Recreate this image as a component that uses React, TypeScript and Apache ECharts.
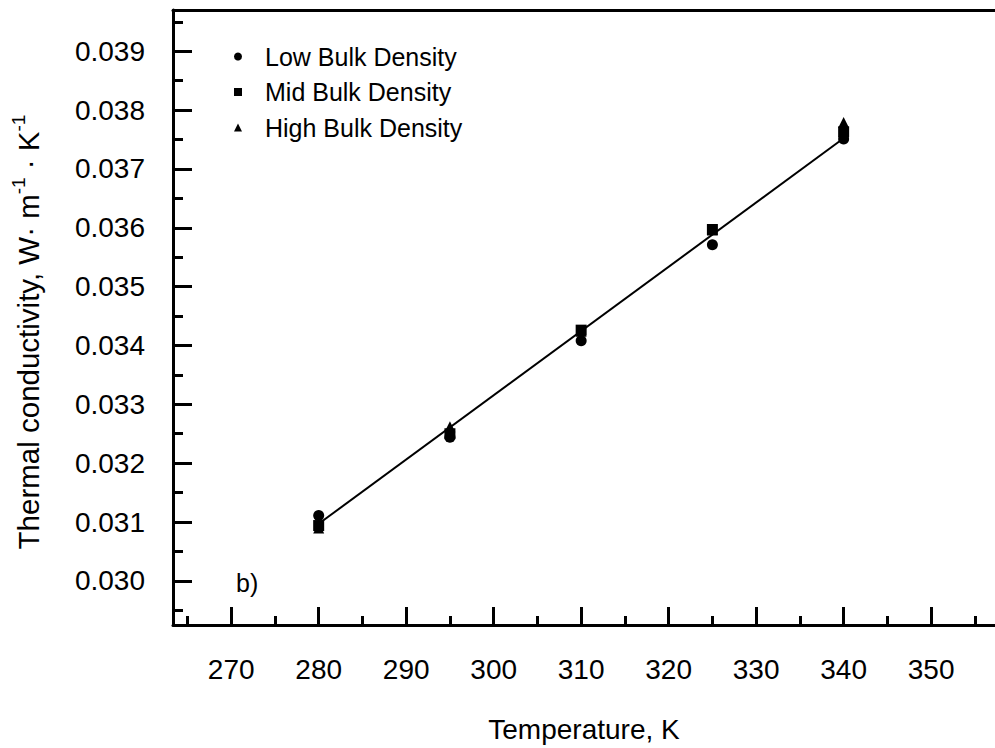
import React, { useEffect, useRef } from "react";
import * as echarts from "echarts";

const temperatures = [280, 295, 310, 325, 340];
const lowDensity = [0.03111, 0.03244, 0.03408, 0.03571, 0.03751];
const midDensity = [0.03094, 0.0325, 0.03426, 0.03597, 0.03763];
const highDensity = [0.0309, 0.03262, 0.03424, 0.03596, 0.03779];
const fitX = [280, 340];
const fitY = [0.03097, 0.03752];

const xMajorTicks = [270, 280, 290, 300, 310, 320, 330, 340, 350];
const xMinorTicks = [265, 275, 285, 295, 305, 315, 325, 335, 345, 355];
const yMajorTicks = [0.03, 0.031, 0.032, 0.033, 0.034, 0.035, 0.036, 0.037, 0.038, 0.039];
const yMinorTicks = [0.0295, 0.0305, 0.0315, 0.0325, 0.0335, 0.0345, 0.0355, 0.0365, 0.0375, 0.0385, 0.0395];

const FONT = "'Liberation Sans', Arial, Helvetica, sans-serif";

const zip = (xs: number[], ys: number[]) => xs.map((x, i) => [x, ys[i]]);

export default function App() {
  const ref = useRef<HTMLDivElement>(null);
  useEffect(() => {
    if (!ref.current) return;
    const chart = echarts.init(ref.current, null, { renderer: "svg" });
    const X_MIN = 263.35;
    const X_MAX = 357.3;
    const Y_MIN = 0.02925;
    const Y_MAX = 0.0397;
    const axisLine = { show: true, lineStyle: { color: "#000", width: 3 } };
    const markerStyle = { color: "#000", opacity: 1 };
    chart.setOption({
      animation: false,
      backgroundColor: "#fff",
      textStyle: { fontFamily: FONT },
      grid: { left: 173, top: 10, width: 834, height: 629, containLabel: false },
      legend: {
        orient: "vertical",
        left: 234,
        top: 44,
        padding: 0,
        itemWidth: 8,
        itemHeight: 8,
        itemGap: 10.5,
        data: ["Low Bulk Density", "Mid Bulk Density", "High Bulk Density"],
        itemStyle: { opacity: 1 },
        textStyle: { fontSize: 25, color: "#000", fontFamily: FONT, lineHeight: 25, padding: [0, 0, 0, 18] },
      },
      xAxis: [
        {
          type: "value",
          min: X_MIN,
          max: X_MAX,
          position: "bottom",
          axisLine,
          splitLine: { show: false },
          axisTick: { show: true, inside: true, length: 18, customValues: xMajorTicks, lineStyle: { color: "#000", width: 3 } },
          axisLabel: { customValues: xMajorTicks, fontSize: 28, color: "#000", margin: 30, fontFamily: FONT },
          name: "Temperature, K",
          nameLocation: "middle",
          nameGap: 90,
          nameTextStyle: { fontSize: 28, color: "#000", fontFamily: FONT },
        },
        {
          type: "value",
          min: X_MIN,
          max: X_MAX,
          position: "bottom",
          axisLine: { show: false },
          splitLine: { show: false },
          axisLabel: { show: false },
          axisTick: { show: true, inside: true, length: 9, customValues: xMinorTicks, lineStyle: { color: "#000", width: 3 } },
        },
        {
          type: "value",
          min: X_MIN,
          max: X_MAX,
          position: "top",
          axisLine,
          splitLine: { show: false },
          axisLabel: { show: false },
          axisTick: { show: false },
        },
      ],
      yAxis: [
        {
          type: "value",
          min: Y_MIN,
          max: Y_MAX,
          position: "left",
          axisLine,
          splitLine: { show: false },
          axisTick: { show: true, inside: true, length: 19, customValues: yMajorTicks, lineStyle: { color: "#000", width: 3 } },
          axisLabel: {
            customValues: yMajorTicks,
            fontSize: 28,
            color: "#000",
            margin: 28,
            fontFamily: FONT,
            formatter: (v: number) => v.toFixed(3),
          },
        },
        {
          type: "value",
          min: Y_MIN,
          max: Y_MAX,
          position: "left",
          axisLine: { show: false },
          splitLine: { show: false },
          axisLabel: { show: false },
          axisTick: { show: true, inside: true, length: 10, customValues: yMinorTicks, lineStyle: { color: "#000", width: 3 } },
        },
      ],
      graphic: [
        {
          type: "text",
          x: 236,
          y: 583,
          style: { text: "b)", fontSize: 25, fill: "#000", fontFamily: FONT, align: "left", verticalAlign: "middle" },
        },
        {
          type: "text",
          x: 26,
          y: 332,
          rotation: Math.PI / 2,
          style: {
            text: "{a|Thermal conductivity, W· m}{s|-1}{a| · K}{s|-1}",
            align: "center",
            verticalAlign: "middle",
            fill: "#000",
            fontFamily: FONT,
            rich: {
              a: { fontSize: 29.5, lineHeight: 34, fill: "#000", fontFamily: FONT, verticalAlign: "bottom" },
              s: { fontSize: 19, lineHeight: 20, fill: "#000", fontFamily: FONT, verticalAlign: "top" },
            },
          },
        },
      ],
      series: [
        {
          name: "Fit",
          type: "line",
          data: zip(fitX, fitY),
          showSymbol: false,
          symbol: "none",
          lineStyle: { color: "#000", width: 2 },
          z: 1,
        },
        {
          name: "High Bulk Density",
          type: "scatter",
          symbol: "triangle",
          symbolSize: 11,
          data: zip(temperatures, highDensity),
          itemStyle: markerStyle,
          z: 2,
        },
        {
          name: "Mid Bulk Density",
          type: "scatter",
          symbol: "rect",
          symbolSize: 11,
          data: zip(temperatures, midDensity),
          itemStyle: markerStyle,
          z: 3,
        },
        {
          name: "Low Bulk Density",
          type: "scatter",
          symbol: "circle",
          symbolSize: 11,
          data: zip(temperatures, lowDensity),
          itemStyle: markerStyle,
          z: 4,
        },
      ],
    });
    return () => chart.dispose();
  }, []);
  return (
    <div
      ref={ref}
      style={{ position: "absolute", left: 0, top: 0, width: 995, height: 748, background: "#fff" }}
    />
  );
}
